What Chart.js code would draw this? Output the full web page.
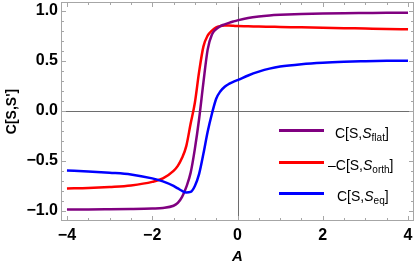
<!DOCTYPE html>
<html>
<head>
<meta charset="utf-8">
<script src="https://cdn.jsdelivr.net/npm/chart.js@4/dist/chart.umd.min.js"></script>
<style>
  html, body { margin: 0; padding: 0; background: #fff; }
  #wrap { position: relative; width: 415px; height: 267px; }
  #legend { position: absolute; left: 0; top: 0; width: 415px; height: 267px; pointer-events: none;
            font-family: "Liberation Sans", Arial, sans-serif; font-size: 14px; color: #000; }
  .item { position: absolute; height: 20px; }
  .swatch { position: absolute; left: 0; width: 45px; height: 2.5px; }
  .label { position: absolute; white-space: nowrap; line-height: 16px; }
  .label i { font-style: italic; }
  .label sub { font-size: 10px; vertical-align: -3px; line-height: 0; }
</style>
</head>
<body>
<div id="wrap">
  <canvas id="chart" width="415" height="267"></canvas>
  <div id="legend"></div>
</div>
<script>
// ================= DATA =================
const xValues = [-4, -3.5, -3, -2.5, -2, -1.75, -1.5, -1.4, -1.3, -1.2, -1.1, -1.0, -0.9, -0.8, -0.7, -0.6,
                 -0.5, -0.4, -0.3, -0.2, -0.1, 0, 0.25, 0.5, 0.75, 1, 1.5, 2, 2.5, 3, 3.5, 4];

// C[S, S_flat]
const flatValues = [-0.985, -0.985, -0.983, -0.98, -0.975, -0.97, -0.948, -0.92, -0.86, -0.76, -0.62, -0.38, -0.08, 0.28, 0.61, 0.76,
                    0.815, 0.845, 0.862, 0.877, 0.89, 0.902, 0.926, 0.941, 0.951, 0.957, 0.965, 0.97, 0.973, 0.975, 0.977, 0.978];

// -C[S, S_orth]
const orthValues = [-0.775, -0.77, -0.76, -0.745, -0.71, -0.675, -0.60, -0.55, -0.47, -0.35, -0.13, 0.08, 0.39, 0.64, 0.75, 0.80,
                    0.832, 0.845, 0.85, 0.85, 0.848, 0.845, 0.843, 0.84, 0.838, 0.836, 0.832, 0.828, 0.824, 0.82, 0.816, 0.813];

// C[S, S_eq]
const eqValues = [-0.595, -0.605, -0.618, -0.635, -0.675, -0.705, -0.75, -0.775, -0.80, -0.815, -0.81, -0.75, -0.63, -0.43, -0.21, -0.03,
                  0.12, 0.195, 0.24, 0.268, 0.288, 0.305, 0.352, 0.39, 0.42, 0.441, 0.465, 0.48, 0.489, 0.494, 0.498, 0.50];

const xTicks = [-4, -2, 0, 2, 4];
const yTicks = [-1, -0.5, 0, 0.5, 1];
const xMinorStep = 0.5;
const yMinorStep = 0.1;

const seriesColors = ["#800080", "#ff0000", "#0000ff"];
// legend labels: [prefix, italic symbol, subscript, suffix]
const seriesLabels = [
    ["C[S,", "S", "flat", "]"],
    ["\u2013C[S,", "S", "orth", "]"],
    ["C[S,", "S", "eq", "]"]
];

// ================= HELPERS =================
function toPoints(values) {
    return xValues.map((x, i) => ({ x: x, y: values[i] }));
}

function fmtTick(v, digits) {
    const s = Math.abs(v) < 1e-9 ? (0).toFixed(digits) : v.toFixed(digits);
    return s.replace("-", "\u2212");
}

// frame, axes and inward ticks, Mathematica style
const framePlugin = {
    id: "frame",
    beforeDatasetsDraw(chart) {
        const { ctx, chartArea: a, scales } = chart;
        ctx.save();
        ctx.strokeStyle = "#6e6e6e";
        ctx.lineWidth = 1;
        const x0 = Math.round(scales.x.getPixelForValue(0)) + 0.5;
        const y0 = Math.round(scales.y.getPixelForValue(0)) + 0.5;
        ctx.beginPath();
        ctx.moveTo(x0, a.top); ctx.lineTo(x0, a.bottom);
        ctx.moveTo(a.left, y0); ctx.lineTo(a.right, y0);
        ctx.stroke();
        ctx.restore();
    },
    afterDatasetsDraw(chart) {
        const { ctx, chartArea: a, scales } = chart;
        ctx.save();
        ctx.strokeStyle = "#a6a6a6";
        ctx.lineWidth = 1;
        ctx.strokeRect(Math.round(a.left) + 0.5, Math.round(a.top) + 0.5,
                       Math.round(a.right - a.left) - 1, Math.round(a.bottom - a.top) - 1);

        ctx.beginPath();
        // x ticks
        for (let v = xTicks[0]; v <= xTicks[xTicks.length - 1] + 1e-9; v += xMinorStep) {
            const major = xTicks.some(t => Math.abs(t - v) < 1e-9);
            const len = major ? 5 : 3;
            const px = Math.round(scales.x.getPixelForValue(v)) + 0.5;
            ctx.moveTo(px, a.bottom); ctx.lineTo(px, a.bottom - len);
            ctx.moveTo(px, a.top); ctx.lineTo(px, a.top + len);
        }
        // y ticks
        for (let v = yTicks[0]; v <= yTicks[yTicks.length - 1] + 1e-9; v += yMinorStep) {
            const major = yTicks.some(t => Math.abs(t - v) < 1e-9);
            const len = major ? 5 : 3;
            const py = Math.round(scales.y.getPixelForValue(v)) + 0.5;
            ctx.moveTo(a.left, py); ctx.lineTo(a.left + len, py);
            ctx.moveTo(a.right, py); ctx.lineTo(a.right - len, py);
        }
        ctx.stroke();
        ctx.restore();
    }
};

// ================= CHART =================
const datasets = [flatValues, orthValues, eqValues].map((vals, i) => ({
    data: toPoints(vals),
    borderColor: seriesColors[i],
    borderWidth: 2.5,
    pointRadius: 0,
    cubicInterpolationMode: "monotone",
    fill: false
}));
// draw order: purple on top of red, blue last
datasets[0].order = 2;
datasets[1].order = 3;
datasets[2].order = 1;

new Chart(document.getElementById("chart"), {
    type: "line",
    data: { datasets: datasets },
    options: {
        responsive: false,
        animation: false,
        devicePixelRatio: 1,
        layout: { padding: { top: 2, right: 1, left: 0, bottom: 0 } },
        plugins: { legend: { display: false }, tooltip: { enabled: false } },
        scales: {
            x: {
                type: "linear",
                min: -4.14,
                max: 4.14,
                afterBuildTicks: s => { s.ticks = xTicks.map(v => ({ value: v })); },
                afterFit: s => { s.height = 46; s.paddingLeft = 0; s.paddingRight = 0; },
                grid: { display: false, drawTicks: false },
                border: { display: false },
                ticks: {
                    padding: 5,
                    color: "#000",
                    font: { family: "Liberation Sans", size: 16, weight: "bold" },
                    maxRotation: 0,
                    callback: v => fmtTick(v, 0)
                },
                title: {
                    display: true,
                    text: "A",
                    color: "#000",
                    padding: { top: 0, bottom: 1 },
                    font: { family: "Liberation Sans", size: 15, weight: "bold", style: "italic" }
                }
            },
            y: {
                type: "linear",
                min: -1.10,
                max: 1.085,
                afterBuildTicks: s => { s.ticks = yTicks.map(v => ({ value: v })); },
                afterFit: s => { s.width = 61; s.paddingTop = 0; s.paddingBottom = 0; },
                grid: { display: false, drawTicks: false },
                border: { display: false },
                ticks: {
                    padding: 3,
                    color: "#000",
                    font: { family: "Liberation Sans", size: 16, weight: "bold" },
                    callback: v => fmtTick(v, 1)
                },
                title: {
                    display: true,
                    text: "C[S,S']",
                    color: "#000",
                    padding: { top: 4, bottom: 0 },
                    font: { family: "Liberation Sans", size: 14, weight: "bold" }
                }
            }
        }
    },
    plugins: [framePlugin]
});

// ================= LEGEND =================
const legendRows = [130, 162, 193];
const legendTextLeft = [335, 328, 337];
const legend = document.getElementById("legend");
seriesLabels.forEach((lab, i) => {
    const item = document.createElement("div");
    item.className = "item";
    item.style.left = "279px";
    item.style.top = (legendRows[i] - 10) + "px";
    item.innerHTML = `
        <div class="swatch" style="top:9px;background:${seriesColors[i]}"></div>
        <div class="label" style="left:${legendTextLeft[i] - 279}px;top:5px">${lab[0]}<i>${lab[1]}</i><sub>${lab[2]}</sub>${lab[3]}</div>
    `;
    legend.appendChild(item);
});
</script>
</body>
</html>
